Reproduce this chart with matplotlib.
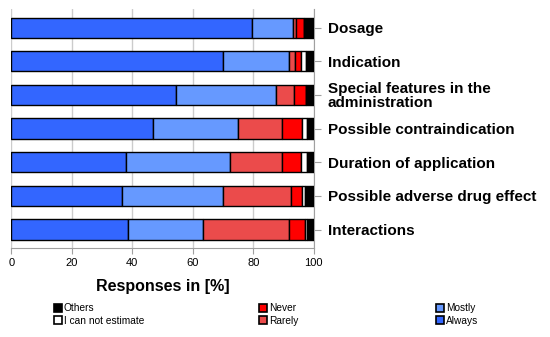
import numpy as np
import matplotlib.pyplot as plt
from matplotlib.patches import Patch

# -------------------------------------------
# Datos (en %)
# -------------------------------------------
categorias = ["Dosage", "Indication", "Special features in the\nadministration",
              "Possible contraindication", "Duration of application",
              "Possible adverse drug effect", "Interactions"]

always   = [79.7, 69.9, 54.4, 46.9, 37.9, 36.5, 38.7]
mostly   = [13.5, 21.9, 33.1, 28.1, 34.4, 33.6, 24.6]
rarely   = [1.0, 1.9, 5.9, 14.6, 17.3, 22.3, 28.5]
never    = [2.6, 2.2, 4.0, 6.6, 6.1, 3.8, 5.4]
no_estim = [0.0, 1.4, 0.0, 1.7, 2.2, 1.0, 0.6]
others   = [3.2, 2.7, 2.6, 2.1, 2.1, 2.8, 2.2]

series = [("Always", always, "#3366ff"),
          ("Mostly", mostly, "#6699ff"),
          ("Rarely", rarely, "#eb4b4b"),
          ("Never", never, "#ff0000"),
          ("I can not estimate", no_estim, "#ffffff"),
          ("Others", others, "#000000")]

plt.rcParams["font.family"] = ["Liberation Sans", "DejaVu Sans"]

fig = plt.figure(figsize=(5.5, 3.37), dpi=100)
ax = fig.add_axes([0.0205, 0.264, 0.5500, 0.709])

y = np.arange(len(categorias))
left = np.zeros(len(categorias))
for nombre, vals, color in series:
    vals = np.array(vals)
    ax.barh(y, vals, left=left, height=0.6, color=color,
            edgecolor="black", linewidth=1.0, zorder=3)
    left += vals

ax.set_xlim(0, 100)
ax.set_ylim(6.55, -0.55)
ax.set_xticks([0, 20, 40, 60, 80, 100])
ax.tick_params(axis="x", labelsize=8, length=4, color="#a0a0a0", pad=3)
ax.set_yticks(y)
ax.set_yticklabels(categorias, fontsize=11, fontweight="bold", linespacing=1.0)
ax.yaxis.tick_right()
ax.tick_params(axis="y", length=5, color="#a0a0a0", pad=5)
ax.grid(axis="x", color="#cccccc", linewidth=1.0, zorder=0)

for s in ["top", "left"]:
    ax.spines[s].set_visible(False)
for s in ["bottom", "right"]:
    ax.spines[s].set_color("#a0a0a0")

ax.set_xlabel("Responses in [%]", fontsize=11.5, fontweight="bold", labelpad=8)

# -------------------------------------------
# Leyenda en tres columnas
# -------------------------------------------
colores = {n: c for n, _, c in series}
grupos = [(["Others", "I can not estimate"], 0.098),
          (["Never", "Rarely"], 0.471),
          (["Mostly", "Always"], 0.793)]
for nombres, xpos in grupos:
    handles = [Patch(facecolor=colores[n], edgecolor="black", linewidth=1.2)
               for n in nombres]
    fig.legend(handles, nombres, loc="upper left",
               bbox_to_anchor=(xpos, 0.1), frameon=False, fontsize=7.3,
               handlelength=0.8, handleheight=0.8, handletextpad=0.15,
               labelspacing=0.25, borderpad=0, borderaxespad=0)

fig.savefig("out.png", dpi=100)
